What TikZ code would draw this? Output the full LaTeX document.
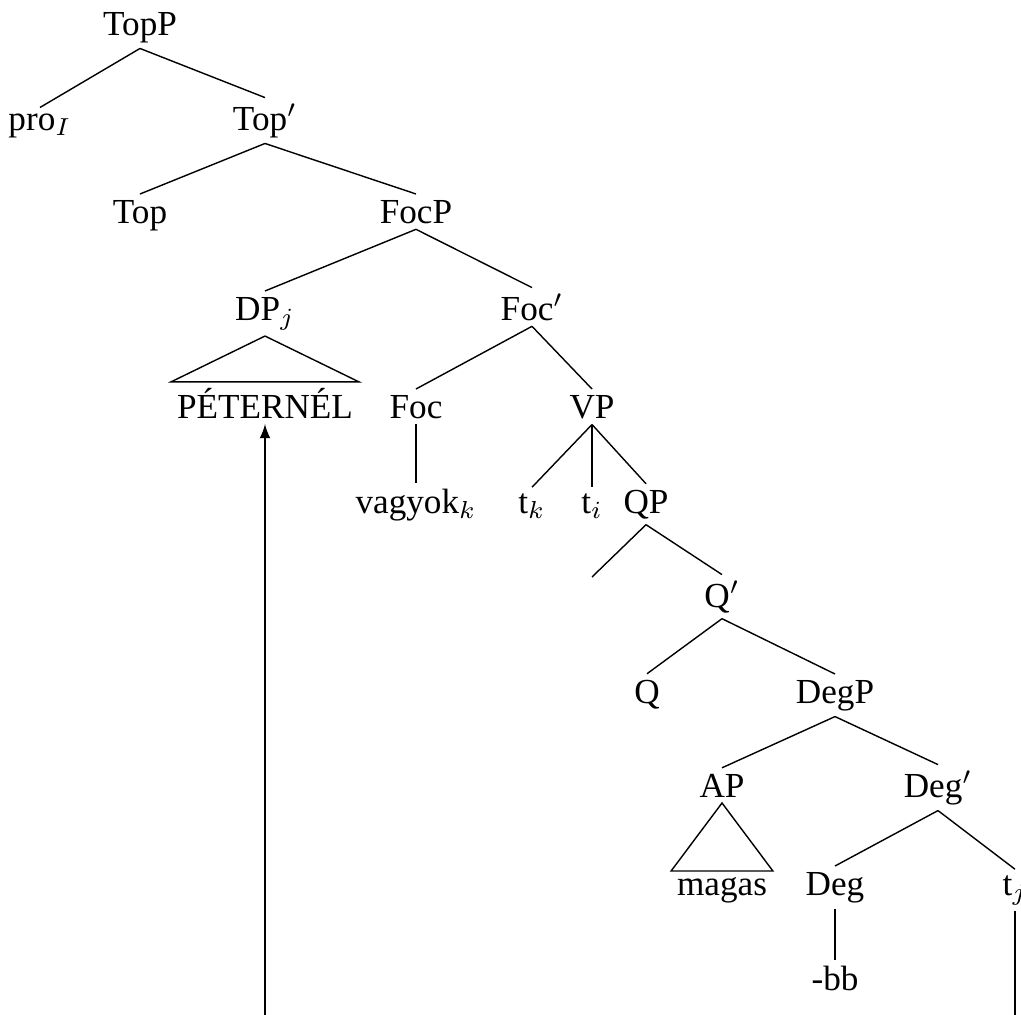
\documentclass[tikz,border=0pt]{standalone}
\usepackage{fontspec}
\setmainfont{Liberation Serif}

\begin{document}
\begin{tikzpicture}[x=0.01cm,y=-0.01cm,>=latex,
  cat/.style={anchor=base,inner sep=1.5pt,font=\fontsize{10}{12}\selectfont}]

%% frame (the tree runs past the right and lower edge)

\useasboundingbox (0,0) rectangle (1021,1015);
\clip (0,0) rectangle (1021,1015);

%% categories, placed on their baselines

\node[cat] (topP) at (140,35) {TopP};
\node[cat] (proI) at (40,130) {pro$_I$};
\node[cat] (topbar) at (265,130) {Top$'$};
\node[cat] (top) at (140,223) {Top};
\node[cat] (focP) at (416,223) {FocP};
\node[cat] (dpj) at (265,320) {DP$_j$};
\node[cat] (focbar) at (532,320) {Foc$'$};
\node[cat] (peternel) at (265,418) {PÉTERNÉL};
\node[cat] (foc) at (416,418) {Foc};
\node[cat] (vp) at (592,418) {VP};
\node[cat] (vagyok) at (416,513) {vagyok$_k$};
\node[cat] (tk) at (532,513) {t$_k$};
\node[cat] (ti) at (592,513) {t$_i$};
\node[cat] (qp) at (646,513) {QP};
\coordinate (qspec) at (592,577); % empty specifier
\node[cat] (qbar) at (722,607) {Q$'$};
\node[cat] (q) at (647,703) {Q};
\node[cat] (degP) at (835,703) {DegP};
\node[cat] (ap) at (722,797) {AP};
\node[cat] (degbar) at (938,797) {Deg$'$};
\node[cat] (magas) at (722,895) {magas};
\node[cat] (deg) at (835,895) {Deg};
\node[cat] (tj) at (1015,895) {t$_j$};
\node[cat] (bb) at (835,990) {-bb};

%% branches

\foreach \a/\b in {topP/proI,topP/topbar,topbar/top,topbar/focP,
    focP/dpj,focP/focbar,focbar/foc,focbar/vp,foc/vagyok,
    vp/tk,vp/ti,vp/qp,qp/qbar,qbar/q,qbar/degP,
    degP/ap,degP/degbar,degbar/deg,degbar/tj,deg/bb}
  \draw (\a.south) -- (\b.north);
\draw (qp.south) -- (qspec);

%% triangles

\draw (dpj.south) -- (peternel.north west) -- (peternel.north east) -- cycle;
\draw (ap.south) -- (magas.north west) -- (magas.north east) -- cycle;

%% movement (its lower leg lies below the frame)

\draw[->] (tj.south) -- ++(0,200) -| (peternel.south);
\end{tikzpicture}
\end{document}
